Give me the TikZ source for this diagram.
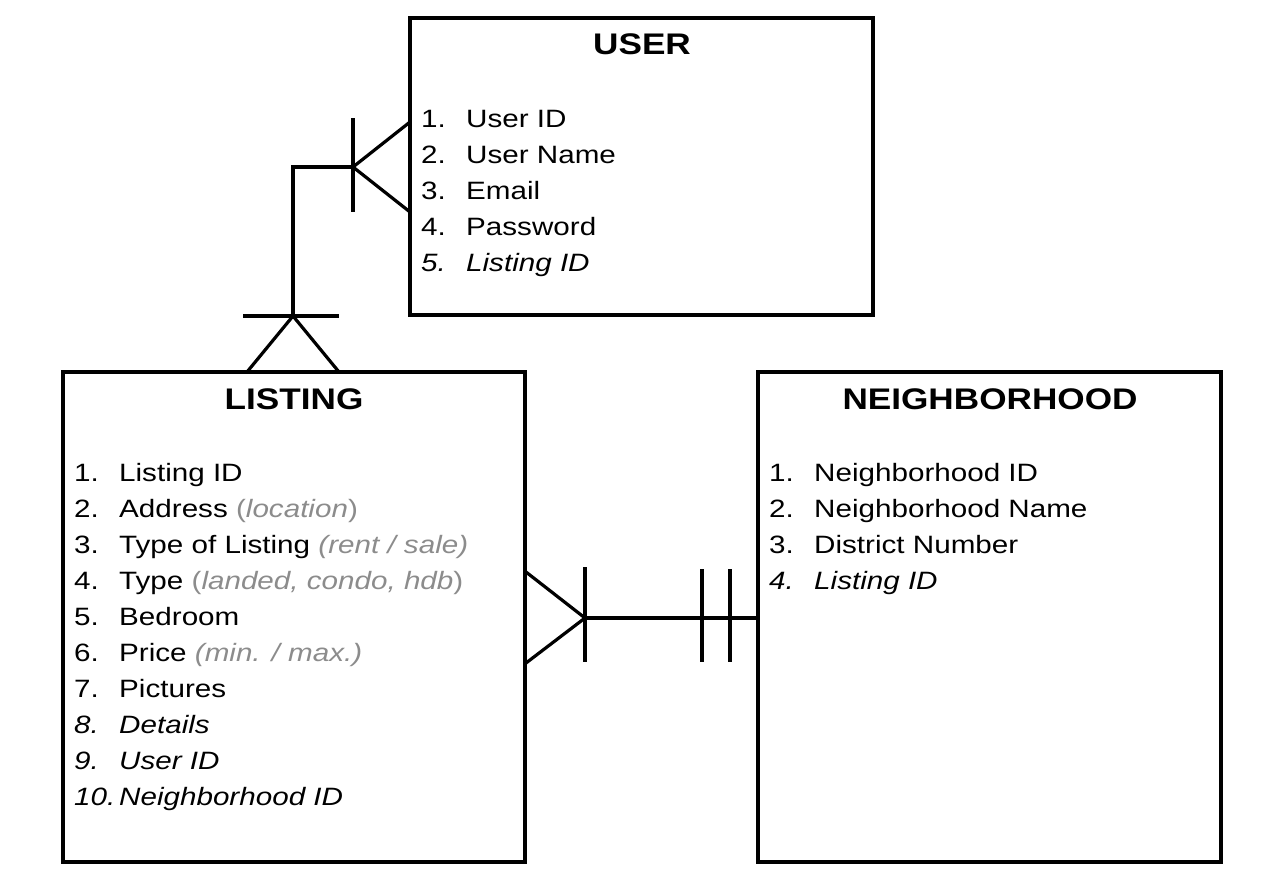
\documentclass[tikz,border=0pt]{standalone}
\usepackage{fontspec}
\setmainfont{Liberation Sans}
\definecolor{lgray}{RGB}{140,140,140}
\newcommand{\wtxt}[1]{\scalebox{1.18}[1]{#1}}
\tikzset{
  boxst/.style={draw=black, line width=3.2pt, fill=none, inner sep=0pt, outer sep=0pt, anchor=north west},
  ttl/.style={anchor=base, inner sep=0pt, font=\bfseries\fontsize{29.8}{36}\selectfont},
  itm/.style={anchor=base west, inner sep=0pt, font=\fontsize{25.1}{36}\selectfont},
  conn/.style={draw=black, line width=3.2pt},
}
\begin{document}
\begin{tikzpicture}[x=1pt,y=-1pt]
\useasboundingbox (0,0) rectangle (1284,886);
% boxes
\node[boxst, minimum width=463pt, minimum height=297pt] (user) at (410,18) {};
\node[boxst, minimum width=462pt, minimum height=490pt] (listing) at (63,372) {};
\node[boxst, minimum width=463pt, minimum height=490pt] (nbh) at (758,372) {};
% titles
\node[ttl] (tuser) at (642,54) {\wtxt{USER}};
\node[ttl] (tlist) at (294,409) {\wtxt{LISTING}};
\node[ttl] (tnbh) at (990,409) {\wtxt{NEIGHBORHOOD}};
% user items
\node[itm] (un1) at (421,127) {\wtxt{1.}}; \node[itm] (ut1) at (466,127) {\wtxt{User ID}};
\node[itm] (un2) at (421,163) {\wtxt{2.}}; \node[itm] (ut2) at (466,163) {\wtxt{User Name}};
\node[itm] (un3) at (421,199) {\wtxt{3.}}; \node[itm] (ut3) at (466,199) {\wtxt{Email}};
\node[itm] (un4) at (421,235) {\wtxt{4.}}; \node[itm] (ut4) at (466,235) {\wtxt{Password}};
\node[itm] (un5) at (421,271) {\wtxt{\itshape 5.}}; \node[itm] (ut5) at (466,271) {\wtxt{\itshape Listing ID}};
% listing items
\node[itm] (ln1) at (74,481) {\wtxt{1.}}; \node[itm] (lt1) at (119,481) {\wtxt{Listing ID}};
\node[itm] (ln2) at (74,517) {\wtxt{2.}}; \node[itm] (lt2) at (119,517) {\wtxt{Address {\color{lgray}(\textit{location})}}};
\node[itm] (ln3) at (74,553) {\wtxt{3.}}; \node[itm] (lt3) at (119,553) {\wtxt{Type of Listing {\color{lgray}\itshape (rent / sale)}}};
\node[itm] (ln4) at (74,589) {\wtxt{4.}}; \node[itm] (lt4) at (119,589) {\wtxt{Type {\color{lgray}(\textit{landed, condo, hdb})}}};
\node[itm] (ln5) at (74,625) {\wtxt{5.}}; \node[itm] (lt5) at (119,625) {\wtxt{Bedroom}};
\node[itm] (ln6) at (74,661) {\wtxt{6.}}; \node[itm] (lt6) at (119,661) {\wtxt{Price {\color{lgray}\itshape (min. / max.)}}};
\node[itm] (ln7) at (74,697) {\wtxt{7.}}; \node[itm] (lt7) at (119,697) {\wtxt{Pictures}};
\node[itm] (ln8) at (74,733) {\wtxt{\itshape 8.}}; \node[itm] (lt8) at (119,733) {\wtxt{\itshape Details}};
\node[itm] (ln9) at (74,769) {\wtxt{\itshape 9.}}; \node[itm] (lt9) at (119,769) {\wtxt{\itshape User ID}};
\node[itm] (ln10) at (74,805) {\wtxt{\itshape 10.}}; \node[itm] (lt10) at (119,805) {\wtxt{\itshape Neighborhood ID}};
% neighborhood items
\node[itm] (nn1) at (769,481) {\wtxt{1.}}; \node[itm] (nt1) at (814,481) {\wtxt{Neighborhood ID}};
\node[itm] (nn2) at (769,517) {\wtxt{2.}}; \node[itm] (nt2) at (814,517) {\wtxt{Neighborhood Name}};
\node[itm] (nn3) at (769,553) {\wtxt{3.}}; \node[itm] (nt3) at (814,553) {\wtxt{District Number}};
\node[itm] (nn4) at (769,589) {\wtxt{\itshape 4.}}; \node[itm] (nt4) at (814,589) {\wtxt{\itshape Listing ID}};
% connector user - listing
\coordinate (uc1) at (410,122);
\coordinate (uc2) at (410,212);
\coordinate (uf) at (353,167);
\coordinate (ub1) at (353,118);
\coordinate (ub2) at (353,212);
\coordinate (bend) at (293,167);
\coordinate (lf) at (293,316);
\coordinate (lb1) at (243,316);
\coordinate (lb2) at (339,316);
\coordinate (lc1) at (247,372);
\coordinate (lc2) at (339,372);
\draw[conn] (uc1) -- (uf) -- (uc2);
\draw[conn] (ub1) -- (ub2);
\draw[conn] (uf) -- (bend) -- (lf);
\draw[conn] (lb1) -- (lb2);
\draw[conn] (lc1) -- (lf) -- (lc2);
% connector listing - neighborhood
\coordinate (rc1) at (526,572);
\coordinate (rc2) at (526,663);
\coordinate (rf) at (585,618);
\coordinate (rb1) at (585,567);
\coordinate (rb2) at (585,662);
\coordinate (ne) at (758,618);
\coordinate (t1a) at (702,569);
\coordinate (t1b) at (702,662);
\coordinate (t2a) at (730,569);
\coordinate (t2b) at (730,662);
\draw[conn] (rc1) -- (rf) -- (rc2);
\draw[conn] (rb1) -- (rb2);
\draw[conn] (rf) -- (ne);
\draw[conn] (t1a) -- (t1b);
\draw[conn] (t2a) -- (t2b);
\end{tikzpicture}
\end{document}
